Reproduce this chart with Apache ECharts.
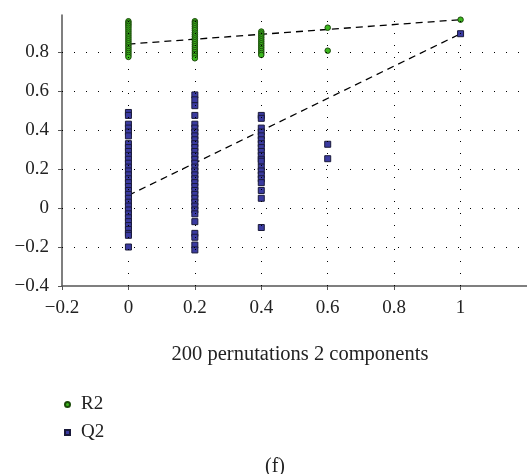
<!DOCTYPE html>
<html><head><meta charset="utf-8">
<script src="https://cdn.jsdelivr.net/npm/echarts@6/dist/echarts.min.js"></script>
<style>html,body{margin:0;padding:0;background:#fff}#c{width:527px;height:474px}</style>
</head><body><div id="c"></div>
<script>
const xTicks = [-0.2, 0, 0.2, 0.4, 0.6, 0.8, 1];
const yTicks = [-0.4, -0.2, 0, 0.2, 0.4, 0.6, 0.8];
const xTickLabels = ['\u22120.2', '0', '0.2', '0.4', '0.6', '0.8', '1'];
const yTickLabels = ['\u22120.4', '\u22120.2', '0', '0.2', '0.4', '0.6', '0.8'];

// R2 values per permutation correlation level
const r2At0 = [0.958,0.95,0.942,0.934,0.925,0.915,0.905,0.895,0.885,0.875,0.865,0.855,0.845,0.835,0.825,0.815,0.805,0.795,0.785,0.775];
const r2At02 = [0.958,0.95,0.942,0.932,0.922,0.912,0.9,0.89,0.88,0.87,0.86,0.85,0.84,0.83,0.82,0.81,0.8,0.79,0.78,0.768];
const r2At04 = [0.905,0.895,0.885,0.875,0.865,0.855,0.845,0.835,0.825,0.815,0.805,0.795,0.785];
const r2At06 = [0.925,0.807];
const r2At1 = [0.966];

// Q2 values
const q2At0 = [0.49,0.475,0.43,0.41,0.39,0.37,0.33,0.31,0.29,0.27,0.25,0.23,0.21,0.19,0.17,0.15,0.13,0.11,0.09,0.07,0.05,0.03,0.01,-0.01,-0.03,-0.05,-0.07,-0.09,-0.11,-0.13,-0.14,-0.2];
const q2At02 = [0.58,0.555,0.525,0.475,0.43,0.41,0.39,0.37,0.35,0.33,0.31,0.29,0.27,0.25,0.23,0.21,0.19,0.17,0.15,0.13,0.11,0.09,0.07,0.05,0.03,0.01,-0.01,-0.03,-0.07,-0.13,-0.15,-0.19,-0.215];
const q2At04 = [0.475,0.46,0.41,0.39,0.37,0.35,0.33,0.31,0.29,0.27,0.25,0.24,0.21,0.19,0.17,0.15,0.13,0.09,0.05,-0.1];
const q2At06 = [0.327,0.253];
const q2At1 = [0.894];

// Regression lines
const r2Line = [[0, 0.841], [1, 0.966]];
const q2Line = [[0, 0.065], [1, 0.894]];

function pts(x, arr) { return arr.map(v => [x, v]); }
const r2Data = [].concat(pts(0, r2At0), pts(0.2, r2At02), pts(0.4, r2At04), pts(0.6, r2At06), pts(1, r2At1));
const q2Data = [].concat(pts(0, q2At0), pts(0.2, q2At02), pts(0.4, q2At04), pts(0.6, q2At06), pts(1, q2At1));

const FONT = 'Liberation Serif';
const dotted = { color: '#000', width: 1, type: [1, 11] };

const gridMarks = [].concat(
  xTicks.slice(1).map(v => ({ xAxis: v })),
  yTicks.slice(1).map(v => ({ yAxis: v }))
);

function lab(ticks, labels) {
  return v => { const i = ticks.findIndex(t => Math.abs(t - v) < 1e-9); return i >= 0 ? labels[i] : ''; };
}

const chart = echarts.init(document.getElementById('c'), null, { renderer: 'canvas' });
chart.setOption({
  animation: false,
  backgroundColor: '#fff',
  textStyle: { fontFamily: FONT },
  grid: { left: 62, right: -9, top: 15, bottom: 188 },
  title: [
    { text: '200 pernutations 2 components', left: 295, top: 339, textAlign: 'center',
      textStyle: { fontFamily: FONT, fontSize: 20.5, fontWeight: 'normal', color: '#222' } },
    { text: '(f)', left: 270, top: 452, textAlign: 'center',
      textStyle: { fontFamily: FONT, fontSize: 20, fontWeight: 'normal', color: '#222' } }
  ],
  legend: {
    orient: 'vertical', left: 59, top: 390, itemWidth: 5, itemHeight: 5, itemGap: 9,
    data: [{ name: 'R2', icon: 'circle' }, { name: 'Q2', icon: 'rect' }],
    textStyle: { fontFamily: FONT, fontSize: 19, color: '#222', padding: [0, 0, 0, 6] }
  },
  xAxis: {
    type: 'value', min: -0.2, max: 1.2, interval: 0.2,
    axisLine: { onZero: false, lineStyle: { color: '#555', width: 1.5 } },
    axisTick: { show: true, length: 4, lineStyle: { color: '#555' }, customValues: xTicks },
    axisLabel: { customValues: xTicks, color: '#222', fontSize: 19, fontFamily: FONT, margin: 13,
      formatter: lab(xTicks, xTickLabels) },
    splitLine: { show: false }
  },
  yAxis: {
    type: 'value', min: -0.4, max: 0.99, interval: 0.2,
    axisLine: { show: true, onZero: false, lineStyle: { color: '#555', width: 1.5 } },
    axisTick: { show: true, length: 4, lineStyle: { color: '#555' }, customValues: yTicks },
    axisLabel: { customValues: yTicks, color: '#222', fontSize: 19, fontFamily: FONT, margin: 13,
      formatter: lab(yTicks, yTickLabels) },
    splitLine: { show: false }
  },
  series: [
    { name: 'grid', type: 'line', data: [], silent: true,
      markLine: { silent: true, symbol: 'none', label: { show: false }, lineStyle: dotted, data: gridMarks, animation: false } },
    { name: 'R2 fit', type: 'line', data: r2Line, symbol: 'none', z: 3,
      lineStyle: { color: '#000', width: 1.3, type: [7, 5] } },
    { name: 'Q2 fit', type: 'line', data: q2Line, symbol: 'none', z: 3,
      lineStyle: { color: '#000', width: 1.3, type: [7, 5] } },
    { name: 'R2', type: 'scatter', data: r2Data, symbol: 'circle', symbolSize: 5.5, z: 4,
      itemStyle: { color: '#3cb81e', borderColor: '#1b4a0a', borderWidth: 1, opacity: 1 } },
    { name: 'Q2', type: 'scatter', data: q2Data, symbol: 'rect', symbolSize: 6, z: 4,
      itemStyle: { color: '#3a3aa0', borderColor: '#1a1a3a', borderWidth: 1, opacity: 1 } }
  ]
});
</script></body></html>
